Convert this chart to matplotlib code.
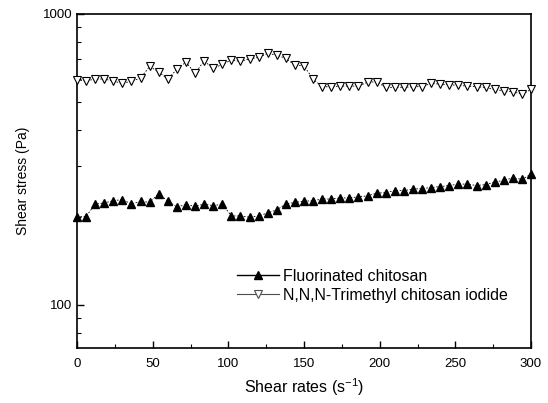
import matplotlib
matplotlib.use("Agg")
import matplotlib.pyplot as plt
from matplotlib.lines import Line2D
from matplotlib.ticker import LogLocator, NullFormatter, MultipleLocator

plt.rcParams["font.family"] = ["Liberation Sans", "DejaVu Sans"]

# shear rate (1/s)
shear_rate = [0, 6, 12, 18, 24, 30, 36, 42, 48, 54, 60, 66, 72, 78, 84, 90, 96,
              102, 108, 114, 120, 126, 132, 138, 144, 150, 156, 162, 168, 174,
              180, 186, 192, 198, 204, 210, 216, 222, 228, 234, 240, 246, 252,
              258, 264, 270, 276, 282, 288, 294, 300]

# shear stress (Pa)
fluorinated = [201, 201, 222, 224, 228, 230, 222, 227, 225, 241, 227, 217, 221,
               218, 222, 219, 222, 202, 202, 200, 202, 207, 212, 222, 225, 227,
               228, 231, 231, 233, 233, 235, 237, 242, 243, 247, 247, 250, 251,
               253, 255, 257, 260, 260, 257, 259, 264, 268, 273, 270, 281]

trimethyl = [592, 589, 597, 598, 587, 578, 587, 602, 660, 632, 597, 646, 683,
             626, 689, 650, 671, 694, 687, 701, 709, 732, 722, 704, 667, 663,
             597, 562, 562, 565, 565, 565, 583, 584, 559, 559, 560, 562, 563,
             577, 574, 571, 568, 565, 562, 559, 550, 544, 540, 530, 550]

labels = ["Fluorinated chitosan", "N,N,N-Trimethyl chitosan iodide"]

fig = plt.figure(figsize=(5.48, 4.03), dpi=100)
ax = fig.add_axes([77 / 548, 1 - 348 / 403, 454 / 548, 334 / 403])

ax.plot(shear_rate, fluorinated, marker="^", ms=6, color="black", mfc="black",
        lw=0.6, ls=(0, (2, 2)), clip_on=False, zorder=3)
ax.plot(shear_rate, trimethyl, marker="v", ms=6, color="black", mfc="white",
        mew=0.8, lw=0.6, ls=(0, (2, 2)), clip_on=False, zorder=3)

ax.set_yscale("log")
ax.set_xlim(0, 300)
ax.set_ylim(71, 1000)

ax.xaxis.set_major_locator(MultipleLocator(50))
ax.xaxis.set_minor_locator(MultipleLocator(25))
ax.set_yticks([100, 1000])
ax.set_yticklabels(["100", "1000"])
ax.yaxis.set_minor_locator(LogLocator(base=10, subs=range(2, 10)))
ax.yaxis.set_minor_formatter(NullFormatter())

ax.tick_params(which="both", direction="in", top=False, right=False, labelsize=9.5)
ax.tick_params(which="major", length=5, width=1)
ax.tick_params(which="minor", length=3, width=0.8)
ax.tick_params(axis="x", pad=7)
for s in ax.spines.values():
    s.set_linewidth(1.2)

ax.set_xlabel("Shear rates (s$^{\\mathdefault{-1}}$)", fontsize=11.5, labelpad=5)
ax.set_ylabel("Shear stress (Pa)", fontsize=10, labelpad=9)

handles = [
    Line2D([], [], color="black", lw=1, marker="^", ms=6, mfc="black"),
    Line2D([], [], color="0.3", lw=0.8, marker="v", ms=6, mfc="white", mew=0.8),
]
ax.legend(handles, labels, loc="upper left",
          bbox_to_anchor=((237 - 77) / 454, (348 - 269) / 334),
          frameon=False, fontsize=11.5, borderpad=0, borderaxespad=0,
          handlelength=2.6, handletextpad=0.3, labelspacing=0.25)

fig.savefig("out.png", dpi=100)
